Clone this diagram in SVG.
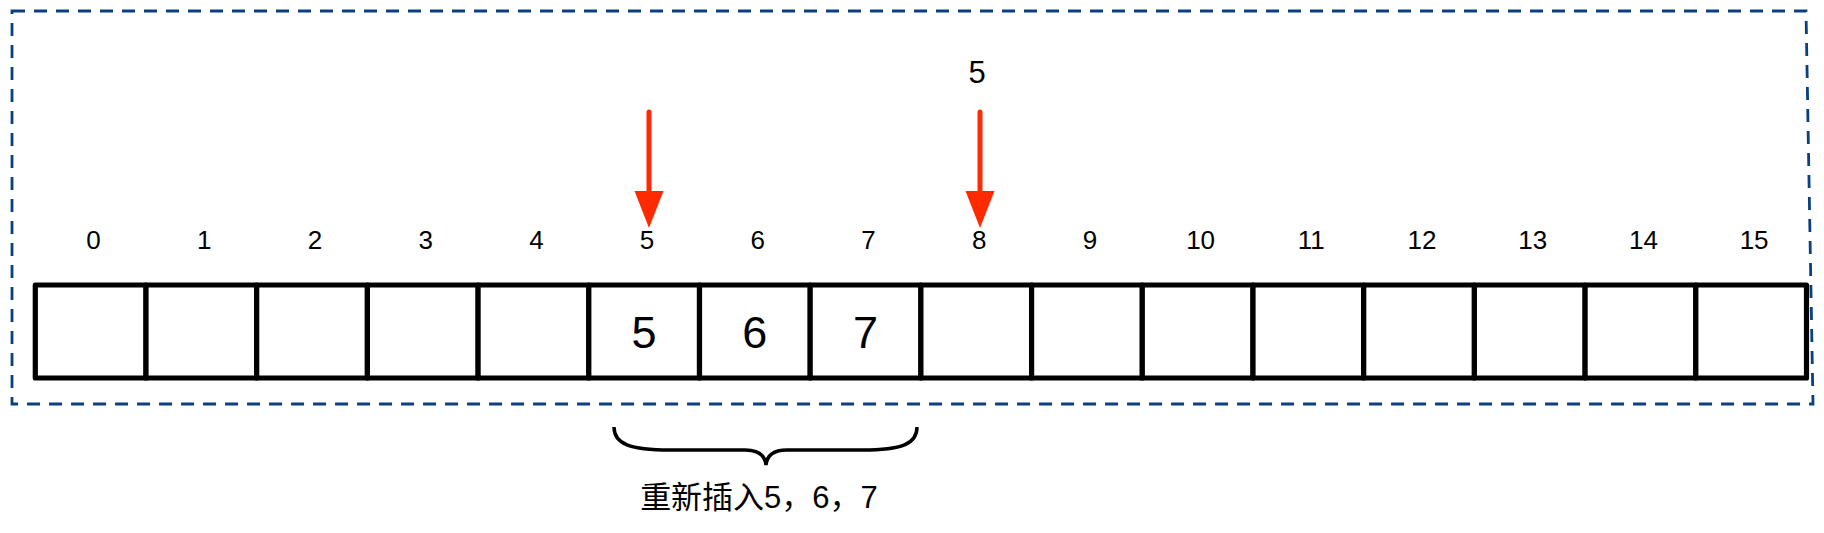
<svg xmlns="http://www.w3.org/2000/svg" width="1824" height="533" viewBox="0 0 1824 533">
<style>
.cell{fill:#fff;stroke:#000;stroke-width:5.2;stroke-linejoin:round}
.idx{font-family:"Liberation Sans",Arial,sans-serif;font-size:26px;fill:#000;text-anchor:middle}
.val{font-family:"Liberation Sans",Arial,sans-serif;font-size:45px;fill:#000;text-anchor:middle}
.arrow{stroke:#ff2a00;stroke-width:5;stroke-linecap:round;fill:none}
.head{fill:#ff2a00}
</style>
<rect width="1824" height="533" fill="#fff"/>
<path id="frame" d="M12,11 L1806,11 L1813,404 L12,404 Z" fill="none" stroke="#0a3f80" stroke-width="2.8" stroke-dasharray="13,9"/>
<g id="array">
<g id="cell0"><rect class="cell" x="35.3" y="285" width="110.7" height="93"/><text class="idx" x="93.6" y="249">0</text></g>
<g id="cell1"><rect class="cell" x="146" y="285" width="110.7" height="93"/><text class="idx" x="204.3" y="249">1</text></g>
<g id="cell2"><rect class="cell" x="256.7" y="285" width="110.7" height="93"/><text class="idx" x="315" y="249">2</text></g>
<g id="cell3"><rect class="cell" x="367.4" y="285" width="110.7" height="93"/><text class="idx" x="425.7" y="249">3</text></g>
<g id="cell4"><rect class="cell" x="478.1" y="285" width="110.7" height="93"/><text class="idx" x="536.4" y="249">4</text></g>
<g id="cell5"><rect class="cell" x="588.8" y="285" width="110.7" height="93"/><text class="idx" x="647.1" y="249">5</text><text class="val" x="644.1" y="348">5</text></g>
<g id="cell6"><rect class="cell" x="699.5" y="285" width="110.7" height="93"/><text class="idx" x="757.8" y="249">6</text><text class="val" x="754.8" y="348">6</text></g>
<g id="cell7"><rect class="cell" x="810.2" y="285" width="110.7" height="93"/><text class="idx" x="868.5" y="249">7</text><text class="val" x="865.5" y="348">7</text></g>
<g id="cell8"><rect class="cell" x="920.9" y="285" width="110.7" height="93"/><text class="idx" x="979.2" y="249">8</text></g>
<g id="cell9"><rect class="cell" x="1031.6" y="285" width="110.7" height="93"/><text class="idx" x="1089.9" y="249">9</text></g>
<g id="cell10"><rect class="cell" x="1142.3" y="285" width="110.7" height="93"/><text class="idx" x="1200.6" y="249">10</text></g>
<g id="cell11"><rect class="cell" x="1253" y="285" width="110.7" height="93"/><text class="idx" x="1311.3" y="249">11</text></g>
<g id="cell12"><rect class="cell" x="1363.7" y="285" width="110.7" height="93"/><text class="idx" x="1422" y="249">12</text></g>
<g id="cell13"><rect class="cell" x="1474.4" y="285" width="110.7" height="93"/><text class="idx" x="1532.7" y="249">13</text></g>
<g id="cell14"><rect class="cell" x="1585.1" y="285" width="110.7" height="93"/><text class="idx" x="1643.4" y="249">14</text></g>
<g id="cell15"><rect class="cell" x="1695.8" y="285" width="110.7" height="93"/><text class="idx" x="1754.1" y="249">15</text></g>
</g>
<g id="label-top"><text x="977" y="83" font-family="'Liberation Sans',Arial,sans-serif" font-size="31" text-anchor="middle">5</text></g>
<g id="connectors">
<line class="arrow" x1="649" y1="112" x2="649" y2="196"/>
<polygon class="head" points="634.5,191 663.5,191 649,228"/>
<line class="arrow" x1="980" y1="112" x2="980" y2="196"/>
<polygon class="head" points="965.5,191 994.5,191 980,228"/>
</g>
<g id="brace">
<path d="M614,427 C614,444 630,450 670,450 L745,450 C758,450 765,455 766,465 C767,455 774,450 787,450 L862,450 C902,450 917,444 917,427" fill="none" stroke="#000" stroke-width="3.5"/>
<text x="759" y="508" font-family="'Liberation Sans','Noto Sans CJK SC',sans-serif" font-size="31" text-anchor="middle">重新插入5，6，7</text>
</g>
</svg>
